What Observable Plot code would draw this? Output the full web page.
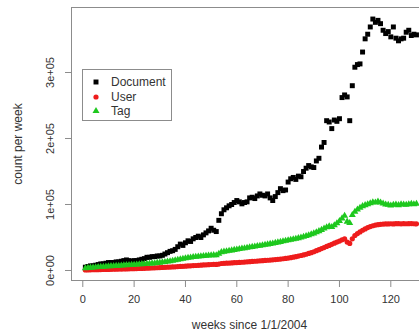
<!DOCTYPE html>
<html><head><meta charset="utf-8">
<script src="https://cdn.jsdelivr.net/npm/d3@7"></script>
<script src="https://cdn.jsdelivr.net/npm/@observablehq/plot@0.6"></script>
<style>
body{margin:0;background:#fff;}
#wrap{position:relative;width:419px;height:332px;overflow:hidden;font-family:"Liberation Sans",Arial,sans-serif;}
#legend{position:absolute;left:82px;top:69px;width:90px;height:52px;border:1px solid #8c8c8c;background:#fff;box-sizing:border-box;}
.row{position:absolute;left:0;height:14px;width:90px;}
.row svg{position:absolute;left:8px;top:2px;}
.row span{position:absolute;left:28px;top:0;font-size:12px;line-height:14px;color:#333;}
</style></head>
<body><div id="wrap"><div id="chart"></div><div id="legend"></div></div>
<script>
const seriesNames = ["Document", "User", "Tag"];
const seriesColors = ["#000000", "#ee1c1c", "#1ec81e"];
const seriesSymbols = ["square", "circle", "triangle"];
const xTicks = [0, 20, 40, 60, 80, 100, 120];
const yTicks = [0, 100000, 200000, 300000];
const yTickLabels = ["0e+00", "1e+05", "2e+05", "3e+05"];

// values in thousands per week, weeks 1..130
const documentK = [
  5, 6, 7, 7, 8, 9, 10, 10, 11, 12,
  12, 12, 13, 13, 14, 15, 16, 15, 14, 15,
  15, 16, 17, 18, 20, 20, 21, 21, 22, 22,
  23, 25, 27, 29, 30, 32, 36, 40, 38, 42,
  45, 44, 48, 50, 52, 50, 54, 57, 60, 64,
  61, 59, 76, 86, 92, 95, 98, 100, 103, 106,
  104, 101, 103, 104, 110, 111, 109, 113, 116, 114,
  113, 116, 110, 106, 112, 118, 124, 121, 122, 134,
  139, 141, 138, 143, 142, 150, 155, 159, 157, 156,
  166, 170, 187, 194, 227, 225, 215, 228, 226, 230,
  262, 266, 263, 227, 280, 308, 312, 313, 331, 351,
  358, 369, 381, 376, 379, 374, 364, 359, 362, 354,
  369, 352, 348, 351, 352, 361, 364, 356, 358, 357];
const userK = [
  0.8, 0.9, 1.0, 1.1, 1.2, 1.3, 1.4, 1.5, 1.6, 1.7,
  1.8, 1.9, 2.0, 2.1, 2.2, 2.3, 2.4, 2.6, 2.7, 2.8,
  2.9, 3.0, 3.2, 3.3, 3.5, 3.6, 3.8, 4.0, 4.2, 4.4,
  4.6, 4.8, 5.0, 5.2, 5.4, 5.6, 5.9, 6.1, 6.4, 6.6,
  6.9, 7.1, 7.4, 7.6, 7.9, 8.1, 8.4, 8.6, 8.9, 9.1,
  9.3, 9.2, 9.8, 10.6, 10.9, 11.1, 11.3, 11.5, 11.8, 12.0,
  12.3, 12.5, 12.8, 13.1, 13.4, 13.7, 14.0, 14.3, 14.6, 14.9,
  15.2, 15.5, 15.8, 16.1, 16.5, 16.9, 17.3, 17.8, 18.3, 18.9,
  19.5, 20.2, 21.0, 21.8, 22.7, 23.6, 24.6, 25.8, 27.0, 28.4,
  30.0, 31.6, 33.2, 34.8, 36.5, 38.0, 39.6, 41.4, 43.0, 44.6,
  46.5, 48.0, 43.0, 41.0, 48.0, 53.0, 56.0, 58.5, 61.0, 63.0,
  65.0, 66.5, 67.8, 68.8, 69.5, 70.0, 70.3, 70.5, 70.6, 70.8,
  70.6, 70.9, 71.0, 70.7, 71.0, 70.8, 70.9, 71.1, 70.8, 70.6];
const tagK = [
  3.5, 4.0, 4.3, 4.6, 5.0, 5.2, 5.5, 5.8, 6.0, 6.3,
  6.6, 6.8, 7.1, 7.3, 7.6, 7.8, 8.1, 8.3, 8.6, 8.8,
  9.1, 9.4, 9.6, 9.9, 10.2, 10.5, 10.8, 11.1, 11.5, 11.9,
  12.4, 12.9, 13.5, 14.1, 14.8, 15.5, 16.3, 17.0, 17.8, 18.5,
  19.2, 19.8, 20.3, 20.7, 21.1, 21.5, 21.9, 22.3, 22.7, 23.0,
  23.3, 23.1, 25.5, 27.8, 28.6, 29.2, 29.8, 30.5, 31.2, 31.9,
  32.6, 33.2, 33.8, 34.5, 35.2, 35.8, 36.4, 37.0, 37.6, 38.2,
  38.9, 39.6, 40.3, 41.0, 41.8, 42.6, 43.4, 44.2, 45.0, 45.8,
  46.6, 47.4, 48.2, 49.0, 50.0, 51.0, 52.2, 53.4, 54.8, 56.2,
  57.8, 59.6, 61.5, 63.5, 65.5, 67.0, 66.0, 68.5, 71.5, 75.0,
  79.0, 83.0, 74.0, 72.0, 84.0, 89.0, 92.5, 95.0, 97.5, 99.0,
  100.5, 102.0, 103.5, 103.0, 104.5, 103.0, 101.5, 100.0, 99.5, 98.5,
  99.5, 100.0, 99.0, 100.5, 100.0, 99.5, 100.5, 101.0, 100.5, 101.0];

const seriesValues = [documentK, userK, tagK];
const xDomain = [-4.40, 131.18];
const yDomain = [-15152, 398485];
const frameColor = "#8c8c8c";
const textColor = "#333";
const radii = [2.8, 2.6, 2.6];

const dotMarks = seriesNames.map((name, s) =>
  Plot.dot(seriesValues[s].map((v, i) => ({week: i + 1, value: v * 1000})), {
    x: "week", y: "value", symbol: seriesSymbols[s], fill: seriesColors[s], r: radii[s], stroke: "none"
  }));

const chart = Plot.plot({
  width: 419, height: 332,
  marginLeft: 71, marginRight: 0, marginTop: 7, marginBottom: 52,
  x: {domain: xDomain},
  y: {domain: yDomain},
  style: {fontFamily: '"Liberation Sans", Arial, sans-serif', background: "transparent", color: textColor},
  marks: [
    ...dotMarks,
    Plot.ruleY([yDomain[0], yDomain[1]], {stroke: frameColor}),
    Plot.ruleX([xDomain[0]], {stroke: frameColor}),
    Plot.axisX({ticks: xTicks, tickSize: 7, tickPadding: 8, label: null, stroke: frameColor, fill: textColor, fontSize: 11}),
    Plot.axisY({ticks: yTicks, tickSize: 6, tickFormat: () => "", label: null, stroke: frameColor}),
    Plot.text(yTicks, {y: d => d, text: (d, i) => yTickLabels[i], frameAnchor: "left", dx: -21, rotate: -90, textAnchor: "middle", lineAnchor: "middle", fontSize: 11, fill: textColor}),
    Plot.text(["count per week"], {frameAnchor: "left", dx: -53, rotate: -90, textAnchor: "middle", lineAnchor: "middle", fontSize: 12, fill: textColor}),
    Plot.text(["weeks since 1/1/2004"], {frameAnchor: "bottom", dy: 45, dx: 4, textAnchor: "middle", lineAnchor: "middle", fontSize: 12, fill: textColor})
  ]
});
document.getElementById("chart").appendChild(chart);

// legend
const legend = d3.select("#legend");
seriesNames.forEach((name, s) => {
  const row = legend.append("div").attr("class", "row").style("top", (5 + s * 14.5) + "px");
  const svg = row.append("svg").attr("width", 10).attr("height", 10);
  const sym = s === 0 ? d3.symbolSquare : s === 1 ? d3.symbolCircle : d3.symbolTriangle;
  svg.append("path").attr("transform", "translate(5,5)")
    .attr("d", d3.symbol(sym, radii[s] * radii[s] * Math.PI)()).attr("fill", seriesColors[s]);
  row.append("span").text(name);
});
</script></body></html>
